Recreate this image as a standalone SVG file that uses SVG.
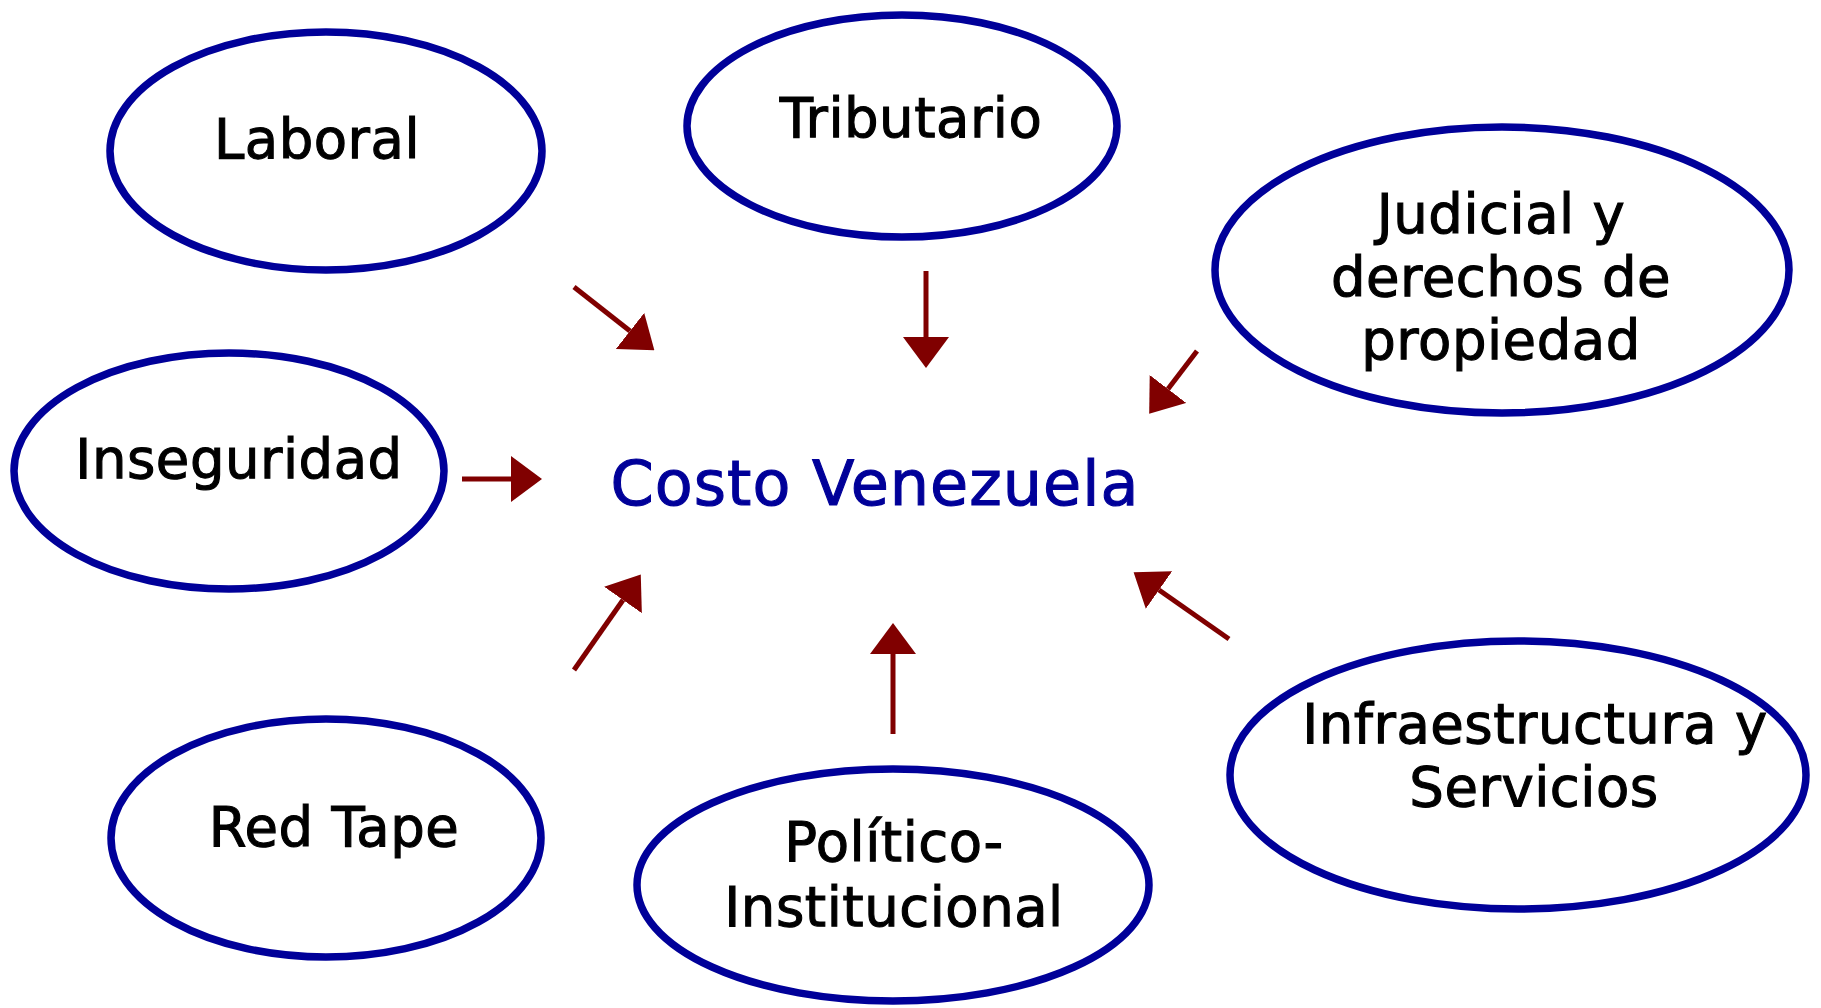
<svg xmlns="http://www.w3.org/2000/svg" width="1821" height="1008" viewBox="0 0 1821 1008">
<defs>
<style>
.node ellipse{fill:#ffffff;stroke:#000099;stroke-width:7.5}
.node text{font-family:"DejaVu Sans","Liberation Sans",sans-serif;font-size:54.5px;letter-spacing:0.5px;fill:#000000;stroke:#000000;stroke-width:1.1;text-anchor:middle}
.title{font-family:"DejaVu Sans","Liberation Sans",sans-serif;font-size:62px;letter-spacing:1px;fill:#000099;stroke:#000099;stroke-width:1.1;text-anchor:middle}
.conn line{stroke:#800000;stroke-width:5;fill:none}
</style>
<marker id="ah" markerUnits="userSpaceOnUse" markerWidth="31" markerHeight="46" refX="0" refY="23" orient="auto" viewBox="0 0 31 46">
<path d="M0,0 L31,23 L0,46 Z" fill="#800000"/>
</marker>
</defs>
<rect width="1821" height="1008" fill="#ffffff"/>
<g id="laboral" class="node"><ellipse cx="326" cy="151" rx="216" ry="119"/><text x="317" y="158">Laboral</text></g>
<g id="tributario" class="node"><ellipse cx="902" cy="126" rx="215" ry="111"/><text x="911" y="137">Tributario</text></g>
<g id="judicial" class="node"><ellipse cx="1502" cy="270" rx="287" ry="143"/><text x="1501" y="233">Judicial y</text><text x="1501" y="296">derechos de</text><text x="1501" y="359">propiedad</text></g>
<g id="inseguridad" class="node"><ellipse cx="229" cy="471" rx="215" ry="118"/><text x="239" y="478">Inseguridad</text></g>
<g id="redtape" class="node"><ellipse cx="326" cy="838" rx="215" ry="119"/><text x="334" y="846">Red Tape</text></g>
<g id="politico" class="node"><ellipse cx="893" cy="885" rx="256" ry="116"/><text x="894" y="861">Político-</text><text x="894" y="926">Institucional</text></g>
<g id="infraestructura" class="node"><ellipse cx="1518" cy="775" rx="288" ry="134"/><text x="1535" y="743">Infraestructura y</text><text x="1534" y="806">Servicios</text></g>
<g id="costo"><text class="title" x="875" y="505">Costo Venezuela</text></g>
<g id="connectors" class="conn">
<line x1="574" y1="287" x2="630" y2="331" marker-end="url(#ah)"/>
<line x1="926" y1="271" x2="926" y2="337" marker-end="url(#ah)"/>
<line x1="1197" y1="351" x2="1168" y2="389" marker-end="url(#ah)"/>
<line x1="462" y1="479" x2="511" y2="479" marker-end="url(#ah)"/>
<line x1="574" y1="670" x2="623" y2="600" marker-end="url(#ah)"/>
<line x1="893" y1="734" x2="893" y2="654" marker-end="url(#ah)"/>
<line x1="1229" y1="639" x2="1159" y2="590" marker-end="url(#ah)"/>
</g>
</svg>
